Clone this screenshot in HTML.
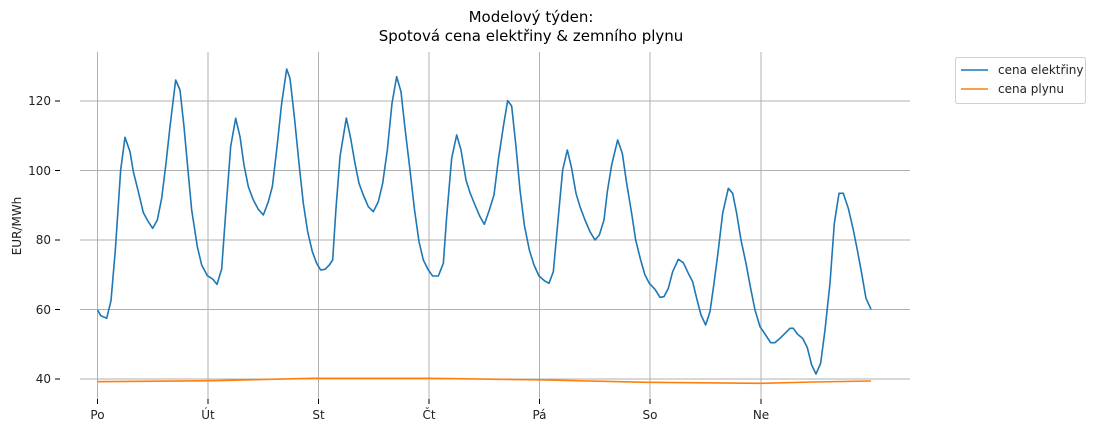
<!DOCTYPE html>
<html><head><meta charset="utf-8"><style>
body{margin:0;background:#fff;}
svg{display:block;font-family:"DejaVu Sans","Liberation Sans",sans-serif;}
</style></head><body>
<svg width="1100" height="430" viewBox="0 0 1100 430" xmlns="http://www.w3.org/2000/svg">
<text x="531" y="22" font-size="15" text-anchor="middle" fill="#000">Modelový týden:</text>
<text x="531" y="41" font-size="15" text-anchor="middle" fill="#000">Spotová cena elektřiny &amp; zemního plynu</text>
<g stroke="#b0b0b0" stroke-width="1">
<line x1="80" y1="101" x2="910" y2="101"/>
<line x1="80" y1="170.5" x2="910" y2="170.5"/>
<line x1="80" y1="240" x2="910" y2="240"/>
<line x1="80" y1="309.5" x2="910" y2="309.5"/>
<line x1="80" y1="379" x2="910" y2="379"/>
<line x1="97.5" y1="52" x2="97.5" y2="399"/>
<line x1="208" y1="52" x2="208" y2="399"/>
<line x1="318.5" y1="52" x2="318.5" y2="399"/>
<line x1="429" y1="52" x2="429" y2="399"/>
<line x1="539.5" y1="52" x2="539.5" y2="399"/>
<line x1="650" y1="52" x2="650" y2="399"/>
<line x1="761" y1="52" x2="761" y2="399"/>
</g>
<g stroke="#000" stroke-width="1">
<line x1="55" y1="101" x2="60" y2="101"/><line x1="55" y1="170.5" x2="60" y2="170.5"/><line x1="55" y1="240" x2="60" y2="240"/><line x1="55" y1="309.5" x2="60" y2="309.5"/><line x1="55" y1="379" x2="60" y2="379"/>
<line x1="97.5" y1="399" x2="97.5" y2="404"/><line x1="208" y1="399" x2="208" y2="404"/><line x1="318.5" y1="399" x2="318.5" y2="404"/><line x1="429" y1="399" x2="429" y2="404"/><line x1="539.5" y1="399" x2="539.5" y2="404"/><line x1="650" y1="399" x2="650" y2="404"/><line x1="761" y1="399" x2="761" y2="404"/>
</g>
<g font-size="12" fill="#222" text-anchor="end">
<text x="51" y="105">120</text><text x="51" y="175">100</text><text x="51" y="244">80</text><text x="51" y="314">60</text><text x="51" y="383">40</text>
</g>
<g font-size="12" fill="#222" text-anchor="middle">
<text x="97.5" y="419">Po</text><text x="208" y="419">Út</text><text x="318.5" y="419">St</text><text x="429" y="419">Čt</text><text x="539.5" y="419">Pá</text><text x="650" y="419">So</text><text x="761" y="419">Ne</text>
</g>
<text transform="translate(21,226) rotate(-90)" font-size="12" fill="#222" text-anchor="middle">EUR/MWh</text>
<g transform="translate(80,50) scale(0.33333)" fill="none" stroke-linejoin="round">
<polyline stroke="#1f77b4" stroke-width="1.6" vector-effect="non-scaling-stroke" points="53,780 62,797 80,805 93,752 106,600 122,360 135,262 150,305 160,365 175,425 190,488 203,512 218,535 232,510 245,445 258,340 270,230 287,90 300,120 312,230 322,340 335,480 352,590 365,645 382,677 398,687 411,703 425,657 437,490 452,290 467,205 480,260 492,345 505,410 520,450 535,478 550,495 565,455 577,410 590,300 605,160 620,57 630,85 643,200 657,340 670,460 683,545 697,605 710,640 722,660 735,658 748,645 758,630 768,475 780,320 799,204 812,265 825,340 837,400 850,435 865,470 880,485 895,455 908,400 922,300 936,160 950,80 963,125 975,235 990,360 1003,475 1017,575 1030,630 1045,660 1058,678 1075,678 1090,640 1100,500 1115,325 1130,255 1143,300 1158,390 1170,428 1185,465 1200,500 1213,523 1228,480 1242,435 1255,330 1270,230 1283,152 1295,168 1308,290 1320,420 1333,525 1348,600 1362,645 1377,678 1393,692 1407,700 1420,665 1435,500 1448,360 1462,300 1475,355 1488,430 1500,470 1515,510 1530,545 1545,570 1558,555 1572,510 1582,425 1595,345 1613,270 1627,310 1640,400 1655,490 1667,570 1682,630 1695,675 1708,700 1725,718 1740,742 1752,740 1765,715 1778,665 1795,628 1810,638 1825,670 1838,695 1850,745 1863,795 1877,825 1890,785 1902,700 1915,600 1928,490 1945,415 1958,430 1970,490 1983,570 1998,640 2010,705 2025,780 2040,830 2057,855 2072,878 2085,878 2100,865 2115,850 2130,835 2140,835 2152,852 2168,865 2182,893 2195,945 2208,972 2222,940 2235,840 2250,700 2263,520 2277,430 2290,430 2305,475 2320,540 2332,600 2345,670 2358,745 2373,778"/>
<polyline stroke="#ff7f0e" stroke-width="1.6" vector-effect="non-scaling-stroke" points="53,995 400,992 700,985 1050,985 1400,990 1700,997 2040,1000 2200,996 2373,993"/>
</g>
<rect x="955.5" y="57.5" width="130" height="46" rx="2" fill="#fff" stroke="#d0d0d0"/>
<line x1="961" y1="70" x2="988" y2="70" stroke="#1f77b4" stroke-width="1.6"/>
<line x1="961" y1="89" x2="988" y2="89" stroke="#ff7f0e" stroke-width="1.6"/>
<g font-size="12" fill="#222"><text x="998" y="74">cena elektřiny</text><text x="998" y="93">cena plynu</text></g>
</svg>
</body></html>
